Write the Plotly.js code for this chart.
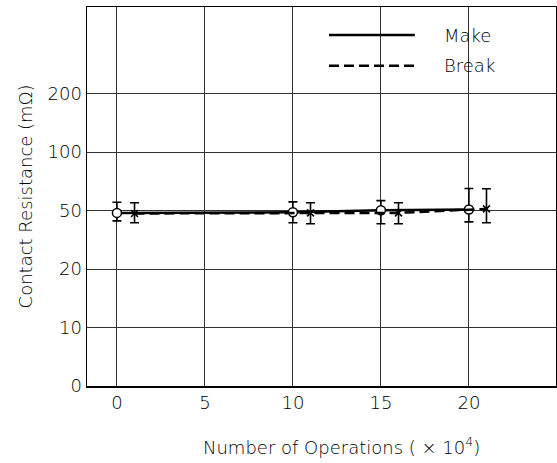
<!DOCTYPE html>
<html>
<head>
<meta charset="utf-8">
<script src="https://cdn.plot.ly/plotly-3.0.1.min.js"></script>
<style>html,body{margin:0;padding:0;background:#fff;}#chart{width:557px;height:463px;}</style>
</head>
<body>
<div id="chart"></div>
<script>
// Tick values of the (non-uniform) resistance scale
const yTickValues = [0, 10, 20, 50, 100, 200];
const yTickLabels = ['0', '10', '20', '50', '100', '200'];
const xTickValues = [0, 5, 10, 15, 20];

// Make series (mΩ)
const makeX = [0, 10, 15, 20];
const makeMean = [48.8, 49.1, 50.3, 50.9];
const makeMax = [57.1, 57.4, 58.5, 68.8];
const makeMin = [44.7, 43.7, 43.2, 44.2];

// Break series (mΩ)
const breakX = [1, 11, 16, 21];
const breakMean = [48.5, 48.8, 48.8, 51.4];
const breakMax = [56.6, 56.6, 56.6, 68.6];
const breakMin = [43.7, 43.2, 43.2, 43.7];

// map a resistance value onto the evenly spaced tick scale
function toIdx(v) {
  for (let i = 0; i < yTickValues.length - 1; i++) {
    const a = yTickValues[i], b = yTickValues[i + 1];
    if (v <= b || i === yTickValues.length - 2) return i + (v - a) / (b - a);
  }
}

function series(xs, mean, mx, mn, dash, symbol, fill) {
  const yc = mean.map(toIdx);
  return {
    x: xs, y: yc, type: 'scatter', mode: 'lines+markers',
    line: {color: '#000', width: 2.5, dash: dash},
    marker: {symbol: symbol, size: symbol === 'circle' ? 9 : 7, color: fill,
             line: {color: '#000', width: 1.5}},
    error_y: {type: 'data', symmetric: false,
              array: mx.map((v, i) => toIdx(v) - yc[i]),
              arrayminus: mn.map((v, i) => yc[i] - toIdx(v)),
              color: '#000', thickness: 1.6, width: 4.5},
    hoverinfo: 'skip'
  };
}

const traces = [
  series(makeX, makeMean, makeMax, makeMin, 'solid', 'circle', '#fff'),
  series(breakX, breakMean, breakMax, breakMin, '10px,5px', 'x-thin', '#000')
];

const font = {family: '"DejaVu Sans", "Liberation Sans", sans-serif', size: 18, color: '#000', weight: 200};

const layout = {
  width: 557, height: 463,
  margin: {l: 87, r: 1, t: 7, b: 77},
  paper_bgcolor: '#fff', plot_bgcolor: '#fff',
  showlegend: false,
  font: font,
  xaxis: {
    range: [-1.7, 24.95], tickvals: xTickValues, ticks: '', showgrid: true,
    gridcolor: '#333', gridwidth: 1, zeroline: false,
    showline: true, mirror: true, linecolor: '#000', linewidth: 1.5,
    tickfont: font, fixedrange: true
  },
  yaxis: {
    range: [0, 6.48], tickvals: yTickValues.map(toIdx), ticktext: yTickLabels,
    ticks: '', showgrid: true, gridcolor: '#333', gridwidth: 1, zeroline: false,
    showline: true, mirror: true, linecolor: '#000', linewidth: 1.5,
    tickfont: font, fixedrange: true,
    title: {text: 'Contact Resistance (mΩ)', font: font, standoff: 10}
  },
  shapes: [
    {type: 'line', xref: 'paper', yref: 'paper', x0: 0.516, x1: 0.699, y0: 0.926, y1: 0.926,
     line: {color: '#000', width: 2.5}},
    {type: 'line', xref: 'paper', yref: 'paper', x0: 0.516, x1: 0.699, y0: 0.845, y1: 0.845,
     line: {color: '#000', width: 2.5, dash: '10px,5px'}}
  ],
  annotations: [
    {xref: 'paper', yref: 'paper', x: 0.757, y: 0.926, xanchor: 'left', yanchor: 'middle',
     text: 'Make', showarrow: false, font: font},
    {xref: 'paper', yref: 'paper', x: 0.757, y: 0.845, xanchor: 'left', yanchor: 'middle',
     text: 'Break', showarrow: false, font: font},
    {xref: 'paper', yref: 'paper', x: 0.543, y: -0.158, xanchor: 'center', yanchor: 'middle',
     text: 'Number of Operations ( × 10<sup>4</sup>)', showarrow: false, font: font}
  ]
};

Plotly.newPlot('chart', traces, layout, {displayModeBar: false, staticPlot: true});
</script>
</body>
</html>
